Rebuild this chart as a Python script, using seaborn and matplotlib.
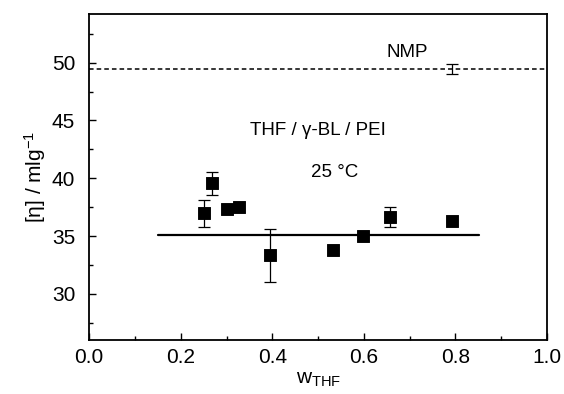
import numpy as np
import pandas as pd
import seaborn as sns
import matplotlib
matplotlib.use("Agg")
import matplotlib.pyplot as plt
from matplotlib.ticker import MultipleLocator

w_thf = [0.251, 0.269, 0.302, 0.327, 0.394, 0.532, 0.598, 0.657, 0.793]
eta = [36.95, 39.55, 37.35, 37.55, 33.35, 33.8, 35.0, 36.65, 36.3]
eta_err = [1.15, 1.0, 0.0, 0.0, 2.3, 0.0, 0.0, 0.9, 0.0]
mean_eta = 35.05
mean_range = [0.15, 0.852]
nmp_eta = 49.45
nmp_x = 0.792
nmp_err = 0.45

sns.set_theme(style="ticks")
plt.rcParams['font.family'] = ['Liberation Sans', 'DejaVu Sans']
plt.rcParams['mathtext.fontset'] = 'custom'
plt.rcParams['mathtext.rm'] = 'Liberation Sans'
plt.rcParams['mathtext.it'] = 'Liberation Sans'
plt.rcParams['text.color'] = 'black'
plt.rcParams['axes.labelcolor'] = 'black'

fig = plt.figure(figsize=(5.64, 3.94), dpi=100)
ax = fig.add_axes([0.158, 0.137, 0.812, 0.827])

df = pd.DataFrame({"w": w_thf, "eta": eta, "err": eta_err})
ax.axhline(nmp_eta, color="black", lw=1.1, ls=(0, (3, 2)))
ax.plot(mean_range, [mean_eta, mean_eta], color="black", lw=1.6)
mask = df["err"] > 0
ax.errorbar(df["w"][mask], df["eta"][mask], yerr=df["err"][mask], fmt="none",
            ecolor="black", elinewidth=0.9, capsize=4.5, capthick=0.9)
ax.errorbar([nmp_x], [nmp_eta], yerr=[nmp_err], fmt="none",
            ecolor="black", elinewidth=0.9, capsize=4.5, capthick=0.9)
sns.scatterplot(data=df, x="w", y="eta", marker="s", s=65, color="black",
                edgecolor="black", ax=ax, zorder=5)

ax.set_xlim(0, 1.0)
ax.set_ylim(26, 54.2)
ax.xaxis.set_major_locator(MultipleLocator(0.2))
ax.xaxis.set_minor_locator(MultipleLocator(0.1))
ax.yaxis.set_major_locator(MultipleLocator(5))
ax.yaxis.set_minor_locator(MultipleLocator(2.5))
ax.set_yticks([30, 35, 40, 45, 50])
ax.tick_params(which="both", direction="in", top=False, right=False,
               labelsize=15, width=1.0, colors="black")
ax.tick_params(which="major", length=5)
ax.tick_params(which="minor", length=3)
ax.tick_params(axis="x", which="major", pad=6)
ax.tick_params(axis="y", which="major", pad=10)
for s in ax.spines.values():
    s.set_linewidth(1.3)
    s.set_color("black")

ax.set_xlabel(r"w$_{\mathregular{THF}}$", fontsize=15, labelpad=2)
ax.set_ylabel(r"[η] / mlg$^{\mathregular{-1}}$", fontsize=15, labelpad=3)

ax.text(0.694, 50.9, "NMP", fontsize=13.5, ha="center", va="center")
ax.text(0.50, 44.1, "THF / γ-BL / PEI", fontsize=13.5, ha="center", va="center")
ax.text(0.536, 40.5, "25 °C", fontsize=13.5, ha="center", va="center")

fig.savefig("out.png", dpi=100)
